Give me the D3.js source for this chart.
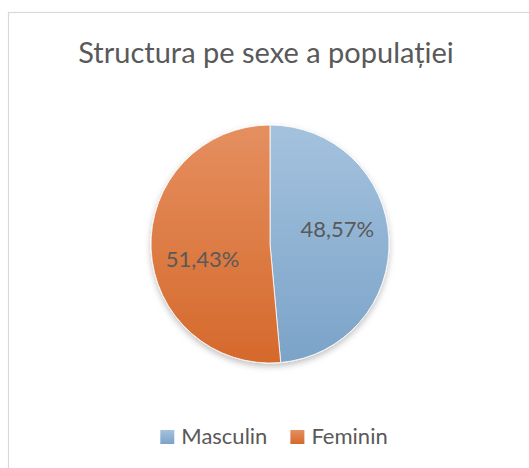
<!DOCTYPE html>
<html>
<head>
<meta charset="utf-8">
<script src="https://cdn.jsdelivr.net/npm/d3@7"></script>
<style>
  body { margin: 0; background: #fff; }
  svg { display: block; }
  text { font-family: Lato, "Open Sans", sans-serif; fill: #595959; }
</style>
</head>
<body>
<svg id="chart" width="529" height="468"></svg>
<script>
var W = 529, H = 468;

// data
var categories = ["Masculin", "Feminin"];
var shares = [48.57, 51.43];
var labels = ["48,57%", "51,43%"];
var chartTitle = "Structura pe sexe a populației";

var colorTop = ["#a4c2de", "#e58f60"];
var colorBottom = ["#7ba3c8", "#d5692b"];

var cx = 270, cy = 244, radius = 119;

var svg = d3.select("#chart");
var defs = svg.append("defs");

// chart area border
svg.append("rect")
	.attr("x", 8.5).attr("y", 12.5)
	.attr("width", W + 20).attr("height", H + 20)
	.attr("fill", "#fff")
	.attr("stroke", "#d9d9d9")
	.attr("stroke-width", 1.2);

//////// gradients: one set for slices (centered frame), one for legend boxes
categories.forEach(function(c, i) {
	var g = defs.append("linearGradient")
		.attr("id", "gradPie" + i)
		.attr("gradientUnits", "userSpaceOnUse")
		.attr("x1", 0).attr("y1", -radius)
		.attr("x2", 0).attr("y2", radius);
	g.append("stop").attr("offset", "0%").attr("stop-color", colorTop[i]);
	g.append("stop").attr("offset", "100%").attr("stop-color", colorBottom[i]);

	var l = defs.append("linearGradient")
		.attr("id", "gradLeg" + i)
		.attr("x1", 0).attr("y1", 0).attr("x2", 0).attr("y2", 1);
	l.append("stop").attr("offset", "0%").attr("stop-color", colorTop[i]);
	l.append("stop").attr("offset", "100%").attr("stop-color", colorBottom[i]);
});

var shadow = defs.append("filter").attr("id", "shadow")
	.attr("x", "-20%").attr("y", "-20%").attr("width", "140%").attr("height", "140%");
shadow.append("feDropShadow")
	.attr("dx", 0).attr("dy", 3)
	.attr("stdDeviation", 3)
	.attr("flood-color", "#000")
	.attr("flood-opacity", 0.25);

// title
svg.append("text")
	.attr("x", cx - 4)
	.attr("y", 63)
	.attr("text-anchor", "middle")
	.style("font-size", "29px")
	.text(chartTitle);

// pie
var pie = d3.pie().sort(null).value(function(d) { return d; });
var arcs = pie(shares);

var arc = d3.arc().innerRadius(0).outerRadius(radius);

var pieG = svg.append("g")
	.attr("transform", "translate(" + cx + "," + cy + ")");

pieG.append("g")
	.attr("filter", "url(#shadow)")
	.selectAll("path")
	.data(arcs)
	.enter().append("path")
	.attr("d", arc)
	.attr("fill", function(d, i) { return "url(#gradPie" + i + ")"; })
	.attr("stroke", "#fff")
	.attr("stroke-width", 0.8);

// data labels, placed the way Excel does (a bit rotated back from mid angle)
var labelR = radius * 0.58;
var rot = -10 * Math.PI / 180;
pieG.selectAll(".lbl")
	.data(arcs)
	.enter().append("text")
	.attr("class", "lbl")
	.attr("x", function(d) { return labelR * Math.sin((d.startAngle + d.endAngle) / 2 + rot); })
	.attr("y", function(d) { return -labelR * Math.cos((d.startAngle + d.endAngle) / 2 + rot); })
	.attr("dy", "0.35em")
	.attr("text-anchor", "middle")
	.style("font-size", "22px")
	.text(function(d, i) { return labels[i]; });

// legend
var box = 14, gapText = 7, gapItem = 23;
var items = svg.append("g").selectAll(".item")
	.data(categories)
	.enter().append("g")
	.attr("class", "item");

items.append("rect")
	.attr("width", box).attr("height", box)
	.attr("y", 430)
	.attr("fill", function(d, i) { return "url(#gradLeg" + i + ")"; });

items.append("text")
	.attr("x", box + gapText)
	.attr("y", 444)
	.style("font-size", "22px")
	.text(function(d) { return d; });

var xpos = 0, offsets = [];
items.each(function() {
	offsets.push(xpos);
	xpos += this.getBBox().width + gapItem;
});
var totalW = xpos - gapItem;
items.attr("transform", function(d, i) { return "translate(" + (cx + 4 - totalW / 2 + offsets[i]) + ",0)"; });
</script>
</body>
</html>
